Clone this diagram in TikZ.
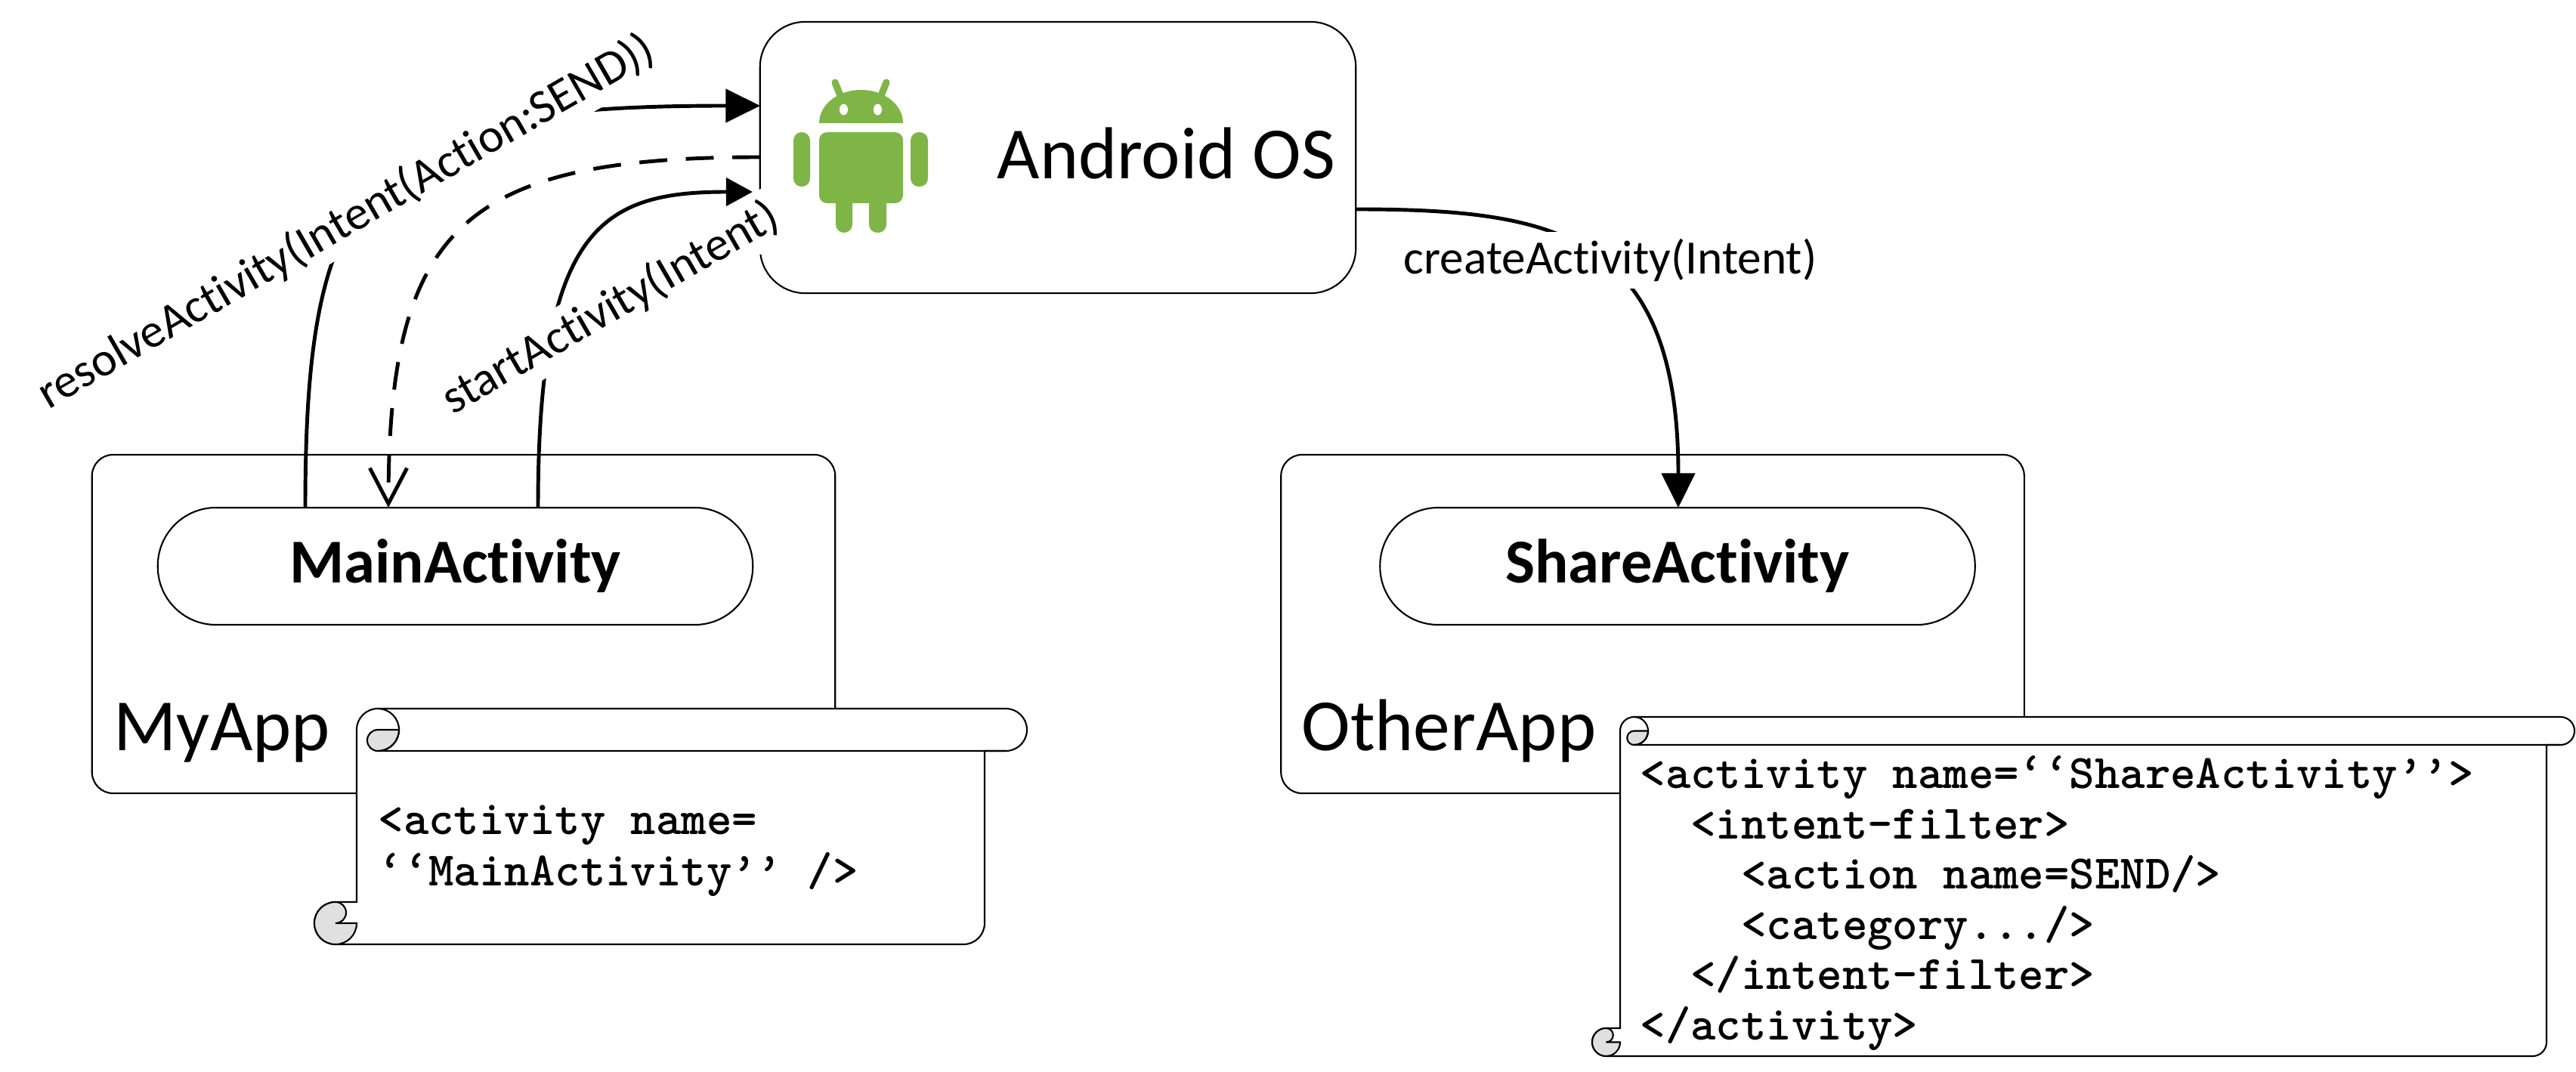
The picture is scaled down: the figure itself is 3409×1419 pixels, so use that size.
\documentclass[tikz,border=0pt]{standalone}
\usepackage{fontspec}
\setmainfont{Carlito}[Ligatures=NoCommon]
\usetikzlibrary{arrows.meta}
\definecolor{droid}{HTML}{7FB546}
\tikzset{
  box/.style={draw, line width=0.6pt, fill=white, inner sep=0pt},
  osbox/.style={box, minimum width=7.88cm, minimum height=3.59cm, rounded corners=17pt},
  appbox/.style={box, minimum width=9.83cm, minimum height=4.48cm, rounded corners=8pt},
  activity/.style={box, minimum width=7.87cm, minimum height=1.55cm, rounded corners=21.9pt, font=\fontsize{23.5}{28}\selectfont\bfseries},
  bigtext/.style={anchor=base west, inner sep=0pt, font=\fontsize{27.7}{32}\selectfont},
  call/.style={fill=white, inner sep=1pt, minimum height=21.3pt, font=\fontsize{18}{20}\selectfont},
  code/.style={anchor=north west, inner sep=0pt, align=left, font=\fontsize{18.1}{18.9}\selectfont\ttfamily\bfseries},
  arrowline/.style={line width=1.4pt, -{Triangle[length=13pt,width=12.5pt]}},
  backline/.style={line width=1.4pt, dash pattern=on 10.5pt off 7pt, -{Straight Barb[length=13.4pt,width=14pt]}},
  scrollline/.style={line width=0.6pt},
}
\newcommand{\codescroll}[5]{
  \pgfmathsetmacro{\sr}{#5/100}
  \pgfmathsetmacro{\sh}{#5/200}
  \draw[scrollline, fill=white] ({#1+2*#5},{#2+#5}) arc[start angle=180, end angle=90, radius=\sr cm]
    -- ({#3-#5},#2) arc[start angle=90, end angle=-90, radius=\sr cm]
    -- ({#3-2*#5},{#2+2*#5}) -- ({#3-2*#5},{#4-#5}) arc[start angle=0, end angle=-90, radius=\sr cm]
    -- ({#1+#5},#4) arc[start angle=-90, end angle=-270, radius=\sr cm]
    -- ({#1+2*#5},{#4-2*#5}) -- cycle;
  \draw[scrollline, fill=black!12] ({#1+3*#5},{#2+#5}) arc[start angle=90, end angle=270, radius=\sh cm]
    arc[start angle=-90, end angle=0, radius=\sr cm] -- cycle;
  \draw[scrollline] ({#1+3*#5},#2) arc[start angle=90, end angle=-90, radius=\sr cm] -- ({#3-#5},{#2+2*#5});
  \draw[scrollline, fill=black!12] ({#1+#5},{#4-2*#5}) arc[start angle=90, end angle=270, radius=\sr cm]
    arc[start angle=-90, end angle=0, radius=\sr cm] -- ({#1+#5},{#4-#5})
    arc[start angle=-90, end angle=90, radius=\sh cm];
}
\begin{document}
\begin{tikzpicture}[x=0.01cm, y=-0.01cm]
\useasboundingbox (0,0) rectangle (3409,1419);

\node[osbox] (android) at (1400,208.5) {};
\node[appbox] (myapp) at (613.5,826) {};
\node[appbox] (otherapp) at (2187,826) {};
\node[activity] (main) at (602.5,749.5) {\raisebox{-0.6pt}{MainActivity}};
\node[activity] (share) at (2220,749.5) {\raisebox{-0.6pt}{ShareActivity}};

\fill[droid] (1084,163) arc[x radius=0.555cm, y radius=0.44cm, start angle=180, end angle=0] -- cycle;
\draw[droid, line width=2.6pt, line cap=round] (1105,109) -- (1115,134) (1173,109) -- (1163,134);
\fill[white] (1116.5,145) ellipse[x radius=0.055cm, y radius=0.075cm] (1161.5,145) ellipse[x radius=0.055cm, y radius=0.075cm];
\fill[droid, rounded corners=3pt] (1084,175) -- (1195,175) -- (1195,269) -- (1084,269) -- cycle;
\fill[droid, rounded corners=3.1pt] (1050,175) rectangle (1072,247) (1205,175) rectangle (1228,247);
\fill[droid, rounded corners=3.1pt] (1106,255) rectangle (1128,308) (1150,255) rectangle (1173,308);

\node[bigtext] (ostext) at (1319,237) {Android OS};
\node[bigtext] (mylabel) at (150,993) {MyApp};
\node[bigtext] (otherlabel) at (1722,993) {OtherApp};

\coordinate (resolvefrom) at (404,672);
\coordinate (resolveto) at (1006,140);
\coordinate (backfrom) at (1006,208);
\coordinate (backto) at (514,672);
\coordinate (startfrom) at (712,672);
\coordinate (startto) at (996,254);
\coordinate (createfrom) at (1794,277);
\coordinate (createto) at (2221,672);

\draw[arrowline] (resolvefrom) .. controls (404,220) and (494,140) .. (resolveto);
\draw[arrowline, -{Triangle[length=10pt,width=10.5pt]}] (startfrom) .. controls (712,300) and (797,254) .. (startto);
\draw[arrowline] (createfrom) .. controls (2060,277) and (2221,310) .. (createto);

\node[call, rotate=30] (resolvecall) at (458,294) {resolveActivity(Intent(Action:SEND))};
\node[call, rotate=30] (startcall) at (808,408) {startActivity(Intent)};
\node[call] (createcall) at (2131,344.5) {createActivity(Intent)};

\draw[backline] (backfrom) .. controls (612,208) and (514,301) .. (backto);

\codescroll{416}{938}{1359}{1250}{28}
\codescroll{2107}{949}{3407}{1398}{18.5}

\node[code] (maincode) at (500,1065) {<activity name=\\[0.5pt] ‘‘MainActivity’’ />};
\node[code] (sharecode) at (2170,1000) {<activity name=‘‘ShareActivity’’>\\~~<intent-filter>\\~~~~<action name=SEND/>\\~~~~<category.../>\\~~</intent-filter>\\</activity>};
\end{tikzpicture}
\end{document}
